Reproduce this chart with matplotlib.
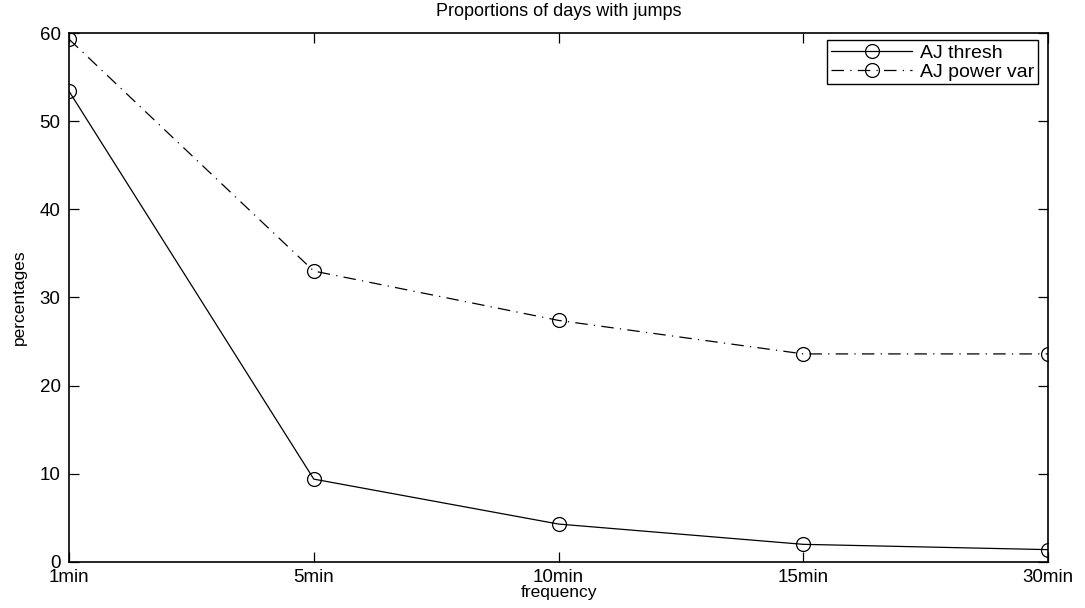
import matplotlib.pyplot as plt

plt.rcParams["font.family"] = ["Liberation Sans", "DejaVu Sans"]

freqs = ["1min", "5min", "10min", "15min", "30min"]
aj_thresh = [53.4, 9.4, 4.3, 2.0, 1.4]
aj_power_var = [59.3, 33.0, 27.4, 23.6, 23.6]
yticks = [0, 10, 20, 30, 40, 50, 60]

x = list(range(1, len(freqs) + 1))

fig = plt.figure(figsize=(10.85, 6.08), dpi=100)
ax = fig.add_axes([0.0636, 0.0757, 0.9024, 0.8700])

ax.plot(x, aj_thresh, color="black", lw=0.9, marker="o", ms=10,
        mfc="none", mec="black", mew=0.9, label="AJ thresh")
ax.plot(x, aj_power_var, color="black", lw=0.9, ls=(0, (10, 5, 1, 5)),
        marker="o", ms=10, mfc="none", mec="black", mew=0.9,
        label="AJ power var")

ax.set_xlim(1, 5)
ax.set_ylim(0, 60)
ax.set_xticks(x)
ax.set_xticklabels(freqs)
ax.set_yticks(yticks)
ax.tick_params(direction="in", top=True, right=True, length=7, width=0.9,
               labelsize=13.5)
ax.tick_params(axis="x", pad=5)
ax.tick_params(axis="y", pad=6)
for s in ax.spines.values():
    s.set_linewidth(1.2)

ax.set_title("Proportions of days with jumps", fontsize=13, pad=12)
ax.set_xlabel("frequency", fontsize=12.5, labelpad=-1)
ax.set_ylabel("percentages", fontsize=12.5, labelpad=9)

leg = ax.legend(loc="upper right", bbox_to_anchor=(0.99, 0.986), fontsize=14,
                fancybox=False, edgecolor="black", framealpha=1,
                handlelength=4.2, borderpad=0.2, labelspacing=0.05,
                handletextpad=0.4, borderaxespad=0)
leg.get_frame().set_linewidth(1.0)

fig.savefig("out.png", dpi=100)
